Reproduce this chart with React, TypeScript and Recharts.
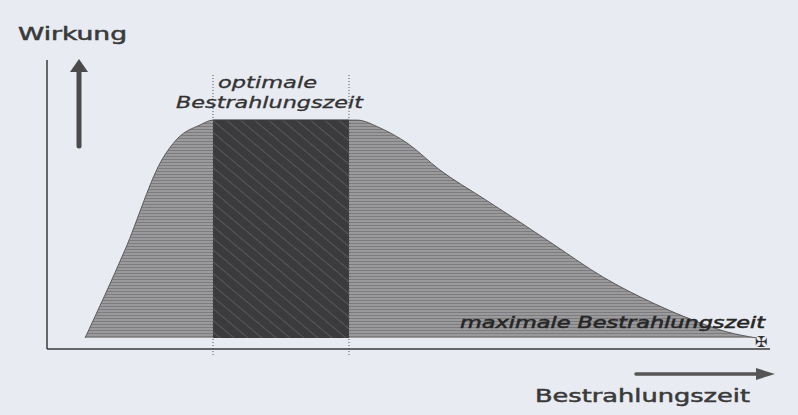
import React from "react";
import { ComposedChart, Area, XAxis, YAxis, ReferenceLine } from "recharts";

// Bestrahlungszeit (x, % of axis length) and Wirkung (y, % of axis height)
const zeit = [5.26, 10.79, 16.04, 18.12, 21.16, 22.96, 41.77, 42.88, 46.06, 49.79, 54.36, 60.3, 65.42, 69.99, 76.9, 83.82, 89.35, 94.05, 98.2];
const wirkung = [3.8, 34.3, 66.1, 73.0, 77.5, 79.2, 79.2, 79.2, 76.5, 71.3, 61.9, 52.2, 43.9, 36.3, 24.9, 15.9, 10.0, 5.9, 3.8];
const optimalStart = 22.96;
const optimalEnd = 41.77;
const baseLevel = 3.8;
const markerTop = 94.8;
const markerBottom = -2.8;

const data = zeit.map((t, i) => ({
  t,
  w: wirkung[i],
  opt: t >= optimalStart && t <= optimalEnd ? wirkung[i] : null,
}));

const BG = "#e9ebf2";

export default function App() {
  return (
    <div style={{ position: "absolute", left: 0, top: 0, width: 798, height: 415, background: BG }}>
      <ComposedChart width={798} height={415} data={data} margin={{ top: 60, right: 28, bottom: 66, left: 47 }}>
        <defs>
          <pattern id="lightTex" width="4" height="3" patternUnits="userSpaceOnUse">
            <rect width="4" height="3" fill="#9a9a9c" />
            <rect y="0" width="4" height="1" fill="#7c7c7e" />
          </pattern>
          <pattern id="darkTex" width="9" height="9" patternUnits="userSpaceOnUse" patternTransform="rotate(40)">
            <rect width="9" height="9" fill="#3b3b3d" />
            <rect y="0" width="9" height="1" fill="#58585a" />
          </pattern>
        </defs>
        <XAxis type="number" dataKey="t" domain={[0, 100]} hide />
        <YAxis type="number" domain={[0, 100]} hide />
        <Area type="monotone" dataKey="w" baseValue={baseLevel} fill="url(#lightTex)" fillOpacity={1} stroke="#5a5a5a" strokeWidth={1} isAnimationActive={false} />
        <Area type="linear" dataKey="opt" baseValue={baseLevel} fill="url(#darkTex)" fillOpacity={1} stroke="#3b3b3d" strokeWidth={1} isAnimationActive={false} />
        <ReferenceLine y={0} stroke="#3a3a3a" strokeWidth={1.5} ifOverflow="visible" />
        <ReferenceLine x={0} stroke="#3a3a3a" strokeWidth={1.5} ifOverflow="visible" />
        <ReferenceLine segment={[{ x: optimalStart, y: markerTop }, { x: optimalStart, y: markerBottom }]} ifOverflow="visible" stroke="#555" strokeDasharray="1 2" />
        <ReferenceLine segment={[{ x: optimalEnd, y: markerTop }, { x: optimalEnd, y: markerBottom }]} ifOverflow="visible" stroke="#555" strokeDasharray="1 2" />
      </ComposedChart>
      <svg width={798} height={415} style={{ position: "absolute", left: 0, top: 0, pointerEvents: "none" }}>
        <text x={18} y={40} fontFamily="DejaVu Sans" fontSize={17} fill="#3a3a3a" stroke="#3a3a3a" strokeWidth={0.5} textLength={109} lengthAdjust="spacingAndGlyphs">Wirkung</text>
        <line x1={79} y1={70} x2={79} y2={146} stroke="#4a4a4a" strokeWidth={5} strokeLinecap="round" />
        <polygon points="70,72 79,59 88,72" fill="#4a4a4a" />
        <text x={218} y={88} fontFamily="DejaVu Sans" fontStyle="italic" fontSize={15} fill="#333" stroke="#333" strokeWidth={0.3} textLength={99} lengthAdjust="spacingAndGlyphs">optimale</text>
        <text x={176} y={108} fontFamily="DejaVu Sans" fontStyle="italic" fontSize={15} fill="#333" stroke="#333" strokeWidth={0.3} textLength={187} lengthAdjust="spacingAndGlyphs">Bestrahlungszeit</text>
        <text x={460} y={328} fontFamily="DejaVu Sans" fontStyle="italic" fontSize={15} fill="#262626" stroke="#262626" strokeWidth={0.5} textLength={305} lengthAdjust="spacingAndGlyphs">maximale Bestrahlungszeit</text>
        <text x={761} y={347} fontFamily="DejaVu Sans" fontSize={15} fill="#333" textAnchor="middle">✠</text>
        <line x1={636} y1={374} x2={760} y2={374} stroke="#555" strokeWidth={3.5} strokeLinecap="round" />
        <polygon points="756,368 775,374 756,380" fill="#555" />
        <text x={535} y={402} fontFamily="DejaVu Sans" fontSize={18} fill="#3a3a3a" stroke="#3a3a3a" strokeWidth={0.5} textLength={215} lengthAdjust="spacingAndGlyphs">Bestrahlungszeit</text>
      </svg>
    </div>
  );
}
